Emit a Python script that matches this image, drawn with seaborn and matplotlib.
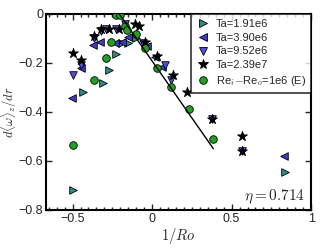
import numpy as np
import pandas as pd
import matplotlib
matplotlib.use("Agg")
import matplotlib.pyplot as plt
import seaborn as sns
from matplotlib.ticker import MultipleLocator

# ---- data ----
ta1_x = [-0.50, -0.435, -0.31, -0.27, -0.225, -0.19, -0.15, -0.10, 0.835]
ta1_y = [-0.72, -0.32, -0.28, -0.23, -0.165, -0.12, -0.12, -0.10, -0.645]

ta2_x = [-0.505, -0.45, -0.37, -0.33, -0.235, -0.19, -0.15, -0.03, 0.02, 0.065, 0.83]
ta2_y = [-0.345, -0.22, -0.125, -0.115, -0.12, -0.115, -0.095, -0.13, -0.175, -0.215, -0.58]

ta3_x = [-0.50, -0.45, -0.365, -0.32, -0.29, -0.225, -0.17, -0.06, 0.08, 0.12, 0.375, 0.565]
ta3_y = [-0.25, -0.21, -0.10, -0.07, -0.06, -0.06, -0.04, -0.12, -0.21, -0.27, -0.43, -0.56]

ta4_x = [-0.50, -0.45, -0.365, -0.32, -0.27, -0.205, -0.11, -0.085, -0.045, 0.03, 0.13, 0.22, 0.375, 0.565, 0.565]
ta4_y = [-0.16, -0.19, -0.09, -0.06, -0.06, -0.06, -0.04, -0.05, -0.115, -0.17, -0.25, -0.32, -0.43, -0.50, -0.56]

exp_x = [-0.50, -0.365, -0.29, -0.26, -0.23, -0.20, -0.17, -0.155, -0.10, -0.045, 0.03, 0.12, 0.235, 0.38]
exp_y = [-0.535, -0.27, -0.18, -0.115, -0.005, -0.005, -0.05, -0.065, -0.08, -0.14, -0.22, -0.30, -0.39, -0.51]

fit_x = [-0.26, 0.385]
fit_y = [0.05, -0.55]

labels = ["Ta=1.91e6", "Ta=3.90e6", "Ta=9.52e6", "Ta=2.39e7", r"Re$_i$$-$Re$_o$=1e6 (E)"]
xticks = [-0.5, 0, 0.5, 1]
yticks = [-0.8, -0.6, -0.4, -0.2, 0]

# ---- style ----
sns.set_style("ticks")
plt.rcParams["font.family"] = ["Liberation Sans", "DejaVu Sans"]
plt.rcParams["mathtext.fontset"] = "cm"

fig = plt.figure(figsize=(3.31, 2.49), dpi=100)
ax = fig.add_axes([0.139, 0.157, 0.801, 0.787])

series = [
    (ta1_x, ta1_y, ">", "#2f8a8a"),
    (ta2_x, ta2_y, "<", "#3c3cc8"),
    (ta3_x, ta3_y, "v", "#5050d8"),
    (ta4_x, ta4_y, "*", "black"),
    (exp_x, exp_y, "o", "#22a022"),
]
handles = []
for (xs, ys, m, c), lab in zip(series, labels):
    df = pd.DataFrame({"x": xs, "y": ys})
    s = 55 if m == "*" else 30
    sns.scatterplot(data=df, x="x", y="y", marker=m, color=c, s=s,
                    edgecolor="black", linewidth=0.6, ax=ax, zorder=3)
    handles.append(plt.Line2D([], [], linestyle="none", marker=m, color=c,
                              markeredgecolor="black", markeredgewidth=0.6,
                              markersize=7 if m == "*" else 5.5, label=lab))

fit_df = pd.DataFrame({"x": fit_x, "y": fit_y})
sns.lineplot(data=fit_df, x="x", y="y", color="black", linewidth=1.0, ax=ax, zorder=4)

ax.set_xlim(-0.667, 1.0)
ax.set_ylim(-0.8, 0)
ax.set_xticks(xticks)
ax.set_xticklabels(["\u22120.5", "0", "0.5", "1"])
ax.set_yticks(yticks)
ax.set_yticklabels(["\u22120.8", "\u22120.6", "\u22120.4", "\u22120.2", "0"])
ax.xaxis.set_minor_locator(MultipleLocator(0.05))
ax.tick_params(which="both", direction="in", top=True, right=True, labelsize=9,
               width=1.0, pad=2)
ax.tick_params(which="major", length=4)
ax.tick_params(which="minor", length=2)
for sp in ax.spines.values():
    sp.set_linewidth(1.5)
    sp.set_color("black")

ax.set_xlabel(r"$1/Ro$", fontsize=10.5, labelpad=1)
ax.set_ylabel(r"$d\langle\omega\rangle_z/dr$", fontsize=9)
ax.yaxis.set_label_coords(-0.102, 0.5)
ax.text(0.96, -0.745, r"$\eta=0.714$", fontsize=11, ha="right", va="center")

leg = ax.legend(handles=handles, loc="upper right", fontsize=8, frameon=True,
                fancybox=False, borderaxespad=0.0, handletextpad=0.5,
                labelspacing=0.34, borderpad=0.45, handlelength=1.3)
leg.get_frame().set_edgecolor("black")
leg.get_frame().set_linewidth(1.2)

fig.savefig("out.png", dpi=100)
